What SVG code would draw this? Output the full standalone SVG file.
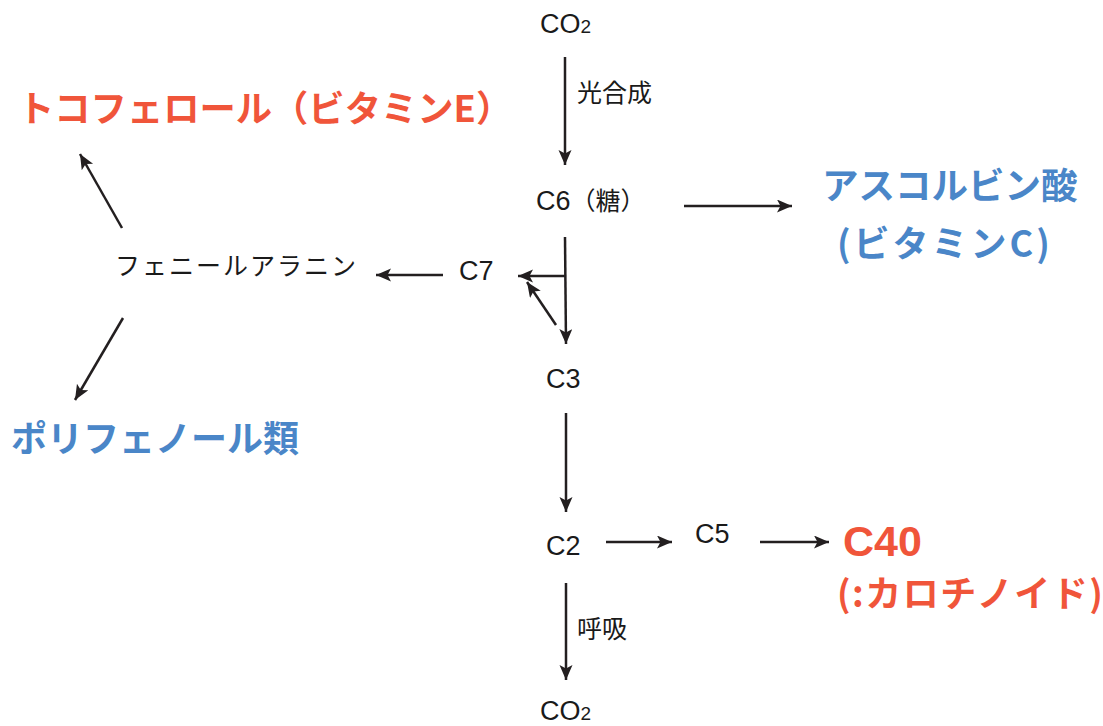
<svg xmlns="http://www.w3.org/2000/svg" width="1103" height="726" viewBox="0 0 1103 726">
<defs>
<style>
.t{font-family:"Liberation Sans","Noto Sans CJK JP",sans-serif;font-size:27px;fill:#1a1a1a}
.j{font-family:"Noto Sans CJK JP","Liberation Sans",sans-serif;font-size:25px;fill:#1a1a1a}
.red{font-family:"Noto Sans CJK JP","Liberation Sans",sans-serif;font-weight:bold;fill:#F0553A}
.blue{font-family:"Noto Sans CJK JP","Liberation Sans",sans-serif;font-weight:bold;fill:#4A86C8}
.c line{stroke:#231f20;stroke-width:2.5;fill:none}
.a{marker-end:url(#ah)}
</style>
<marker id="ah" markerUnits="userSpaceOnUse" markerWidth="16" markerHeight="14" refX="15" refY="6.5" orient="auto">
<path d="M0,0 L15,6.5 L0,13 L3.5,6.5 z" fill="#231f20"/>
</marker>
</defs>
<rect width="1103" height="726" fill="#fff"/>
<g id="connectors" class="c">
<line class="a" x1="565" y1="57" x2="565" y2="165"/>
<line class="a" x1="684" y1="206" x2="792" y2="206"/>
<line class="a" x1="565" y1="237" x2="566" y2="344"/>
<line class="a" x1="565" y1="276" x2="518" y2="276"/>
<line class="a" x1="556" y1="325" x2="527" y2="282"/>
<line class="a" x1="443" y1="275" x2="376" y2="275"/>
<line class="a" x1="122" y1="228" x2="80" y2="154"/>
<line class="a" x1="123" y1="318" x2="75" y2="400"/>
<line class="a" x1="566" y1="413" x2="566" y2="512"/>
<line class="a" x1="606" y1="542" x2="672" y2="542"/>
<line class="a" x1="760" y1="542" x2="829" y2="542"/>
<line class="a" x1="566" y1="583" x2="566" y2="680"/>
</g>
<g id="co2-top"><text class="t" x="540" y="33">CO<tspan font-size="19">2</tspan></text></g>
<g id="label-photo"><text class="j" x="577" y="102">光合成</text></g>
<g id="c6"><text class="t" x="536" y="210">C6<tspan style="font-family:'Noto Sans CJK JP',sans-serif;font-size:25px">（糖）</tspan></text></g>
<g id="ascorbic"><text class="blue" font-size="36.5" x="822" y="199">アスコルビン酸</text><text class="blue" font-size="36" x="837" y="257" letter-spacing="3">(ビタミンC)</text></g>
<g id="c7"><text class="t" x="459" y="280">C7</text></g>
<g id="phenylalanine"><text class="j" x="115" y="275" letter-spacing="2">フェニールアラニン</text></g>
<g id="tocopherol"><text class="red" font-size="36.3" x="18" y="122">トコフェロール（ビタミンE）</text></g>
<g id="polyphenol"><text class="blue" font-size="36" x="11" y="452">ポリフェノール類</text></g>
<g id="c3"><text class="t" x="546" y="388">C3</text></g>
<g id="c2"><text class="t" x="546" y="555">C2</text></g>
<g id="c5"><text class="t" x="695" y="543">C5</text></g>
<g id="c40"><text class="red" style="font-family:'Liberation Sans',sans-serif" font-size="43" x="843" y="556">C40</text><text class="red" font-size="36" x="837" y="607" letter-spacing="1.5">(:カロチノイド)</text></g>
<g id="label-resp"><text class="j" x="577" y="638">呼吸</text></g>
<g id="co2-bottom"><text class="t" x="540" y="720">CO<tspan font-size="19">2</tspan></text></g>
</svg>
